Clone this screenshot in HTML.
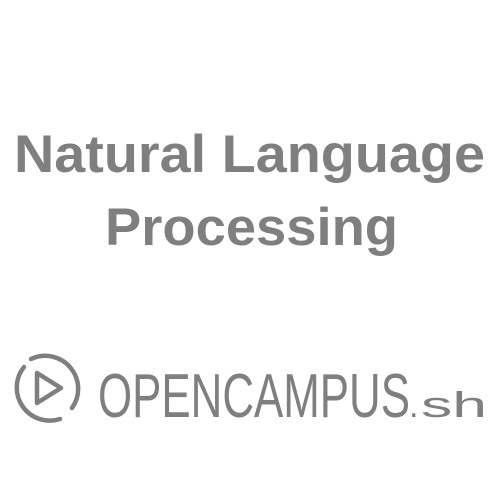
<!DOCTYPE html>
<html><head><meta charset="utf-8"><style>html,body{margin:0;padding:0;background:#fff}svg{display:block}</style></head>
<body>
<svg width="500" height="500" viewBox="0 0 500 500" xmlns="http://www.w3.org/2000/svg">
<rect width="500" height="500" fill="#fff"/>
<g fill="#7f7f7f" font-family="Liberation Sans, sans-serif">
<text x="14" y="172" font-size="53" font-weight="bold" textLength="471" lengthAdjust="spacingAndGlyphs">Natural Language</text>
<text x="105" y="245" font-size="53" font-weight="bold" textLength="293" lengthAdjust="spacingAndGlyphs">Processing</text>
<text x="98" y="417" font-size="62" textLength="312" lengthAdjust="spacingAndGlyphs">OPENCAMPUS</text>
<text x="409" y="417" font-size="34">.</text>
<text x="421" y="417" font-size="36" textLength="66" lengthAdjust="spacingAndGlyphs">sh</text>
</g>
<g fill="none" stroke="#7f7f7f" stroke-width="4.5" stroke-linecap="round">
<path d="M 24 367 A 33 33 0 0 0 60 419"/>
<path d="M 31 359 A 33 33 0 0 1 72 408"/>
<path d="M 37 373 L 37 403 L 61 388 Z" stroke-linejoin="round"/>
</g>
</svg>
</body></html>
